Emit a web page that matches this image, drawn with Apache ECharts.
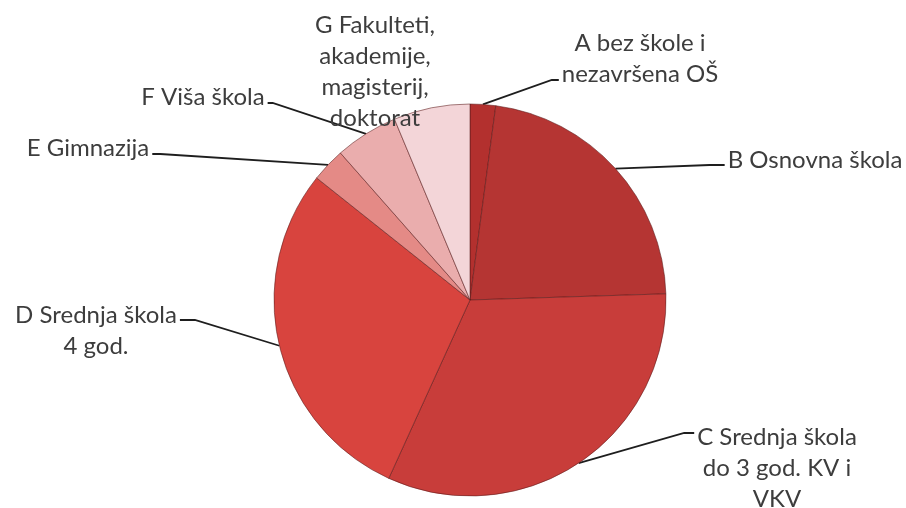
<!DOCTYPE html>
<html>
<head>
<meta charset="utf-8">
<script src="https://cdn.jsdelivr.net/npm/echarts@6/dist/echarts.min.js"></script>
<style>html,body{margin:0;padding:0;background:#fff;}#c{width:906px;height:508px;}</style>
</head>
<body>
<div id="c"></div>
<script>
const categories = [
  'A bez škole i\nnezavršena OŠ',
  'B Osnovna škola',
  'C Srednja škola\ndo 3 god. KV i\nVKV',
  'D Srednja škola\n4 god.',
  'E Gimnazija',
  'F Viša škola',
  'G Fakulteti,\nakademije,\nmagisterij,\ndoktorat'
];
const values = [2.1, 22.4, 32.3, 28.9, 2.8, 5.2, 6.3];
const colors = ['#b3302e', '#b53533', '#c83d3a', '#d8443e', '#e48a86', '#eaadad', '#f3d5d8'];

// label placement (style/layout only)
const labelPlace = [
  {x: 640, y: 59, attach: 21, elbow: 7},
  {x: 815, y: 160, attach: 5, elbow: 15},
  {x: 777, y: 468, attach: -35, elbow: 10},
  {x: 96, y: 331, attach: -11, elbow: 15},
  {x: 88, y: 148, attach: 6, elbow: 8},
  {x: 203, y: 97, attach: 6, elbow: 5},
  {x: 375, y: 72, attach: 0, elbow: 0, noLine: true}
];

const chart = echarts.init(document.getElementById('c'));
chart.setOption({
  animation: false,
  backgroundColor: '#ffffff',
  series: [{
    type: 'pie',
    center: [470, 300],
    radius: 196,
    startAngle: 90,
    clockwise: true,
    avoidLabelOverlap: false,
    data: categories.map((n, i) => ({
      name: n,
      value: values[i],
      itemStyle: {color: colors[i]},
      labelLine: {show: !labelPlace[i].noLine}
    })),
    itemStyle: {borderColor: 'rgba(90,25,25,0.55)', borderWidth: 1},
    label: {
      show: true,
      position: 'outside',
      formatter: '{b}',
      color: '#3d3d3d',
      fontFamily: 'Lato',
      fontSize: 24,
      lineHeight: 31,
      align: 'center'
    },
    labelLine: {show: true, lineStyle: {color: '#1e1e1e', width: 1.8}},
    labelLayout: function (params) {
      const p = labelPlace[params.dataIndex];
      const w = params.labelRect.width;
      const res = {x: p.x, y: p.y, align: 'center', verticalAlign: 'middle'};
      if (!p.noLine && params.labelLinePoints) {
        const p0 = params.labelLinePoints[0];
        const isLeft = p.x < 470;
        const ex = isLeft ? p.x + w / 2 + 3 : p.x - w / 2 - 3;
        const ey = p.y + p.attach;
        const bx = isLeft ? ex + p.elbow : ex - p.elbow;
        res.labelLinePoints = [[p0[0], p0[1]], [bx, ey], [ex, ey]];
      }
      return res;
    }
  }]
});
</script>
</body>
</html>
